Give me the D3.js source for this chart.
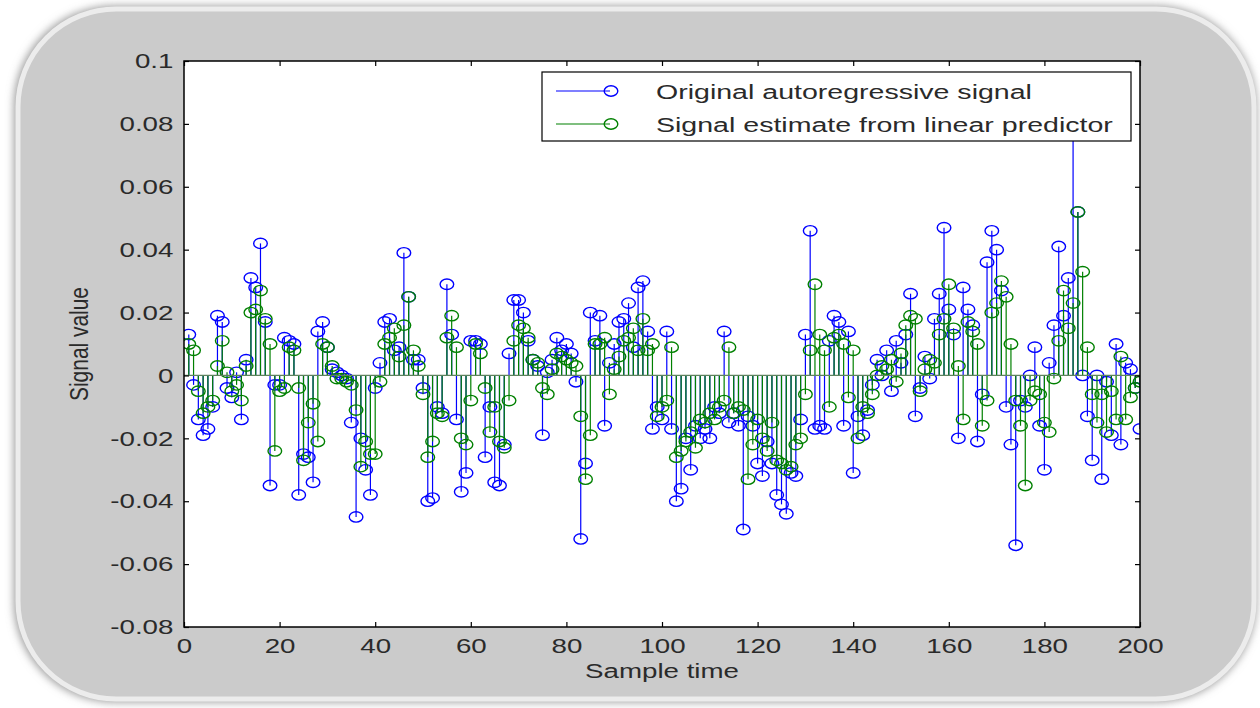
<!DOCTYPE html>
<html>
<head>
<meta charset="utf-8">
<script src="https://cdn.jsdelivr.net/npm/d3@7/dist/d3.min.js"></script>
<style>
  body { margin: 0; background: #fff; }
  svg { display: block; font-family: "Liberation Sans", Arial, sans-serif; }
</style>
</head>
<body>
<svg id="chart" width="1260" height="708"></svg>
<script>
var width = 1260,
   height = 708,
   stretch = 1.32; // the picture is wider than it is tall, text too

// samples 1..200
var original = [
   0.013, -0.003, -0.014, -0.019, -0.017, -0.010, 0.019, 0.017, -0.004, -0.007,
   0.001, -0.014, 0.005, 0.031, 0.028, 0.042, 0.017, -0.035, -0.003, -0.003,
   0.012, 0.011, 0.010, -0.038, -0.025, -0.026, -0.034, 0.014, 0.017, 0.009,
   0.002, 0.001, 0.000, -0.001, -0.015, -0.045, -0.020, -0.030, -0.038, -0.004,
   0.004, 0.017, 0.018, 0.008, 0.009, 0.039, 0.025, 0.005, 0.005, -0.004,
   -0.040, -0.039, -0.010, -0.012, 0.029, 0.013, -0.014, -0.037, -0.031, 0.011,
   0.011, 0.010, -0.026, -0.010, -0.034, -0.035, -0.022, 0.007, 0.024, 0.024,
   0.020, 0.011, 0.005, 0.003, -0.019, 0.001, 0.005, 0.012, 0.008, 0.010,
   0.007, -0.002, -0.052, -0.028, 0.020, 0.011, 0.019, -0.016, 0.004, 0.010,
   0.017, 0.018, 0.023, 0.009, 0.028, 0.030, 0.014, -0.017, -0.010, -0.014,
   0.014, -0.017, -0.040, -0.036, -0.020, -0.030, -0.016, -0.020, -0.017, -0.020,
   -0.010, -0.012, 0.014, -0.015, -0.012, -0.016, -0.049, -0.013, -0.016, -0.028,
   -0.032, -0.021, -0.028, -0.038, -0.041, -0.044, -0.031, -0.032, -0.014, 0.013,
   0.046, -0.017, -0.016, -0.017, 0.011, 0.019, 0.017, -0.016, 0.014, -0.031,
   -0.013, -0.019, -0.011, -0.003, 0.005, 0.000, 0.008, -0.005, 0.011, 0.004,
   0.013, 0.026, -0.013, -0.004, 0.006, -0.001, 0.018, 0.026, 0.047, 0.021,
   0.013, -0.020, 0.028, 0.021, 0.016, -0.021, -0.006, 0.036, 0.046, 0.040,
   0.027, -0.010, -0.022, -0.054, -0.008, -0.010, 0.000, 0.009, -0.016, -0.030,
   0.004, 0.016, 0.041, 0.019, 0.031, 0.085, 0.052, 0.000, -0.013, -0.027,
   0.000, -0.033, -0.002, -0.019, 0.010, -0.022, 0.004, 0.002, -0.004, -0.017
];

var estimate = [
   0.010, 0.008, -0.005, -0.012, -0.010, -0.008, 0.003, 0.011, 0.001, -0.005,
   -0.003, -0.008, 0.003, 0.020, 0.021, 0.027, 0.018, 0.010, -0.024, -0.005,
   -0.004, 0.009, 0.008, -0.004, -0.027, -0.015, -0.009, -0.021, 0.010, 0.009,
   0.003, -0.001, -0.001, -0.002, -0.003, -0.011, -0.029, -0.021, -0.025, -0.025,
   -0.002, 0.010, 0.012, 0.015, 0.006, 0.016, 0.025, 0.008, 0.003, -0.006,
   -0.026, -0.021, -0.012, -0.013, 0.012, 0.019, 0.009, -0.020, -0.022, -0.008,
   0.010, 0.007, -0.004, -0.018, -0.010, -0.021, -0.023, -0.008, 0.011, 0.016,
   0.015, 0.012, 0.005, 0.004, -0.004, -0.006, 0.002, 0.007, 0.006, 0.005,
   0.004, 0.003, -0.013, -0.033, -0.019, 0.010, 0.010, 0.012, -0.006, 0.002,
   0.006, 0.011, 0.012, 0.015, 0.008, 0.018, 0.008, 0.010, -0.013, -0.010,
   -0.008, 0.009, -0.026, -0.024, -0.021, -0.018, -0.023, -0.014, -0.015, -0.012,
   -0.014, -0.010, -0.008, 0.009, -0.012, -0.010, -0.011, -0.033, -0.022, -0.014,
   -0.020, -0.024, -0.015, -0.027, -0.028, -0.030, -0.029, -0.022, -0.020, -0.006,
   0.008, 0.029, 0.013, 0.008, -0.010, 0.012, 0.013, 0.010, -0.007, 0.008,
   -0.020, -0.010, -0.012, -0.006, 0.000, 0.003, 0.002, 0.005, -0.002, 0.007,
   0.016, 0.019, 0.018, -0.005, 0.002, 0.005, 0.004, 0.013, 0.018, 0.029,
   0.015, 0.003, -0.014, 0.017, 0.014, 0.010, -0.016, -0.008, 0.020, 0.023,
   0.030, 0.025, 0.010, -0.008, -0.016, -0.035, -0.008, -0.005, -0.006, -0.015,
   -0.018, -0.001, 0.011, 0.027, 0.015, 0.023, 0.052, 0.033, 0.009, -0.006,
   -0.015, -0.006, -0.018, -0.005, -0.014, 0.006, -0.014, -0.007, -0.004, -0.002
];

var xTicks = [0, 20, 40, 60, 80, 100, 120, 140, 160, 180, 200];
var yTicks = [-0.08, -0.06, -0.04, -0.02, 0, 0.02, 0.04, 0.06, 0.08, 0.1];
var seriesNames = ["Original autoregressive signal", "Signal estimate from linear predictor"];
var seriesColors = ["#0000ff", "#008000"];

var svg = d3.select("svg#chart");

// soft shadow for the frame
var defs = svg.append("defs");
var blur = defs.append("filter").attr("id", "soft")
   .attr("x", "-5%").attr("y", "-5%").attr("width", "110%").attr("height", "110%");
blur.append("feGaussianBlur").attr("stdDeviation", 4);

//Frame
svg.append("rect")
   .attr("x", 14).attr("y", 6).attr("width", 1242).attr("height", 696)
   .attr("rx", 100).attr("ry", 100)
   .attr("fill", "#9a9a9a")
   .attr("filter", "url(#soft)");
svg.append("rect")
   .attr("x", 18).attr("y", 9).attr("width", 1236).attr("height", 690)
   .attr("rx", 98).attr("ry", 98)
   .attr("fill", "#cbcbcb")
   .attr("stroke", "#ececec")
   .attr("stroke-width", 5);

var margin = { left: 184, right: 1140, top: 61, bottom: 627 };

var x = d3.scaleLinear().domain([0, 200]).range([margin.left, margin.right]);
var y = d3.scaleLinear().domain([-0.08, 0.1]).range([margin.bottom, margin.top]);

//Plot box
svg.append("rect")
   .attr("x", margin.left).attr("y", margin.top)
   .attr("width", margin.right - margin.left)
   .attr("height", margin.bottom - margin.top)
   .attr("fill", "#fff");

var plot = svg.append("g");
plot.append("clipPath").attr("id", "clip")
   .append("rect")
   .attr("x", margin.left).attr("y", margin.top)
   .attr("width", margin.right - margin.left)
   .attr("height", margin.bottom - margin.top);
var inner = plot.append("g").attr("clip-path", "url(#clip)");

function drawStems(values, color) {
   var g = inner.append("g");
   g.selectAll("line")
      .data(values)
      .enter()
      .append("line")
      .attr("x1", (d, i) => x(i + 1))
      .attr("x2", (d, i) => x(i + 1))
      .attr("y1", y(0))
      .attr("y2", (d) => y(d))
      .attr("stroke", color)
      .attr("stroke-width", 1.2);
   g.selectAll("ellipse")
      .data(values)
      .enter()
      .append("ellipse")
      .attr("cx", (d, i) => x(i + 1))
      .attr("cy", (d) => y(d))
      .attr("rx", 6.8)
      .attr("ry", 5.2)
      .attr("fill", "none")
      .attr("stroke", color)
      .attr("stroke-width", 1.4);
}

drawStems(original, seriesColors[0]);
drawStems(estimate, seriesColors[1]);

// baseline
inner.append("line")
   .attr("x1", x(0)).attr("x2", x(200))
   .attr("y1", y(0)).attr("y2", y(0))
   .attr("stroke", "#5f835f")
   .attr("stroke-width", 1.2);

//Axes
var fontSize = "21px";
var xAxis = d3.axisBottom(x).tickValues(xTicks).tickSizeInner(-5).tickSizeOuter(0).tickPadding(11)
   .tickFormat(d3.format("d"));
var xAxisTop = d3.axisTop(x).tickValues(xTicks).tickSizeInner(-5).tickSizeOuter(0).tickFormat("");
// plain hyphen for negatives, as in the original
var yAxis = d3.axisLeft(y).tickValues(yTicks).tickSizeInner(-5).tickSizeOuter(0).tickPadding(8)
   .tickFormat((d) => (d === 0 ? "0" : String(+d.toFixed(2))));
var yAxisRight = d3.axisRight(y).tickValues(yTicks).tickSizeInner(-5).tickSizeOuter(0).tickFormat("");

function styleAxis(g) {
   g.select(".domain").remove();
   g.selectAll("line").attr("stroke", "#000").attr("stroke-width", 1.2);
   g.selectAll("text").attr("fill", "#2a2a2a").style("font-size", fontSize)
      .style("font-family", "'Liberation Sans', Arial, sans-serif")
      .attr("transform", "scale(" + stretch + ",1)");
}

svg.append("g").attr("transform", "translate(0," + margin.bottom + ")").call(xAxis).call(styleAxis);
svg.append("g").attr("transform", "translate(0," + margin.top + ")").call(xAxisTop).call(styleAxis);
svg.append("g").attr("transform", "translate(" + margin.left + ",0)").call(yAxis).call(styleAxis);
svg.append("g").attr("transform", "translate(" + margin.right + ",0)").call(yAxisRight).call(styleAxis);

svg.append("rect")
   .attr("x", margin.left).attr("y", margin.top)
   .attr("width", margin.right - margin.left)
   .attr("height", margin.bottom - margin.top)
   .attr("fill", "none")
   .attr("stroke", "#000")
   .attr("stroke-width", 1.5);

//Axis labels
svg.append("text")
   .attr("transform", "translate(" + (margin.left + margin.right) / 2 + ",678) scale(" + stretch + ",1)")
   .attr("text-anchor", "middle")
   .attr("fill", "#2a2a2a")
   .style("font-size", fontSize)
   .text("Sample time");

svg.append("text")
   .attr("transform", "translate(88," + (margin.top + margin.bottom) / 2 + ") scale(" + stretch + ",1) rotate(-90)")
   .attr("text-anchor", "middle")
   .attr("fill", "#2a2a2a")
   .style("font-size", "19px")
   .attr("textLength", 114)
   .attr("lengthAdjust", "spacingAndGlyphs")
   .text("Signal value");

//Legend
var legend = svg.append("g");
legend.append("rect")
   .attr("x", 542).attr("y", 72).attr("width", 589).attr("height", 69)
   .attr("fill", "#fff")
   .attr("stroke", "#000")
   .attr("stroke-width", 1.2);

var rows = legend.selectAll("g.row")
   .data(seriesNames)
   .enter()
   .append("g")
   .attr("class", "row")
   .attr("transform", (d, i) => "translate(0," + (91 + i * 33) + ")");

rows.append("line")
   .attr("x1", 556).attr("x2", 610)
   .attr("stroke", (d, i) => seriesColors[i])
   .attr("stroke-width", 1.2);
rows.append("ellipse")
   .attr("cx", 611).attr("rx", 6.8).attr("ry", 5.2)
   .attr("fill", "none")
   .attr("stroke", (d, i) => seriesColors[i])
   .attr("stroke-width", 1.4);
rows.append("text")
   .attr("transform", "translate(656,0) scale(1.36,1)")
   .attr("dy", "0.36em")
   .attr("fill", "#2a2a2a")
   .style("font-size", fontSize)
   .text((d) => d);
</script>
</body>
</html>
